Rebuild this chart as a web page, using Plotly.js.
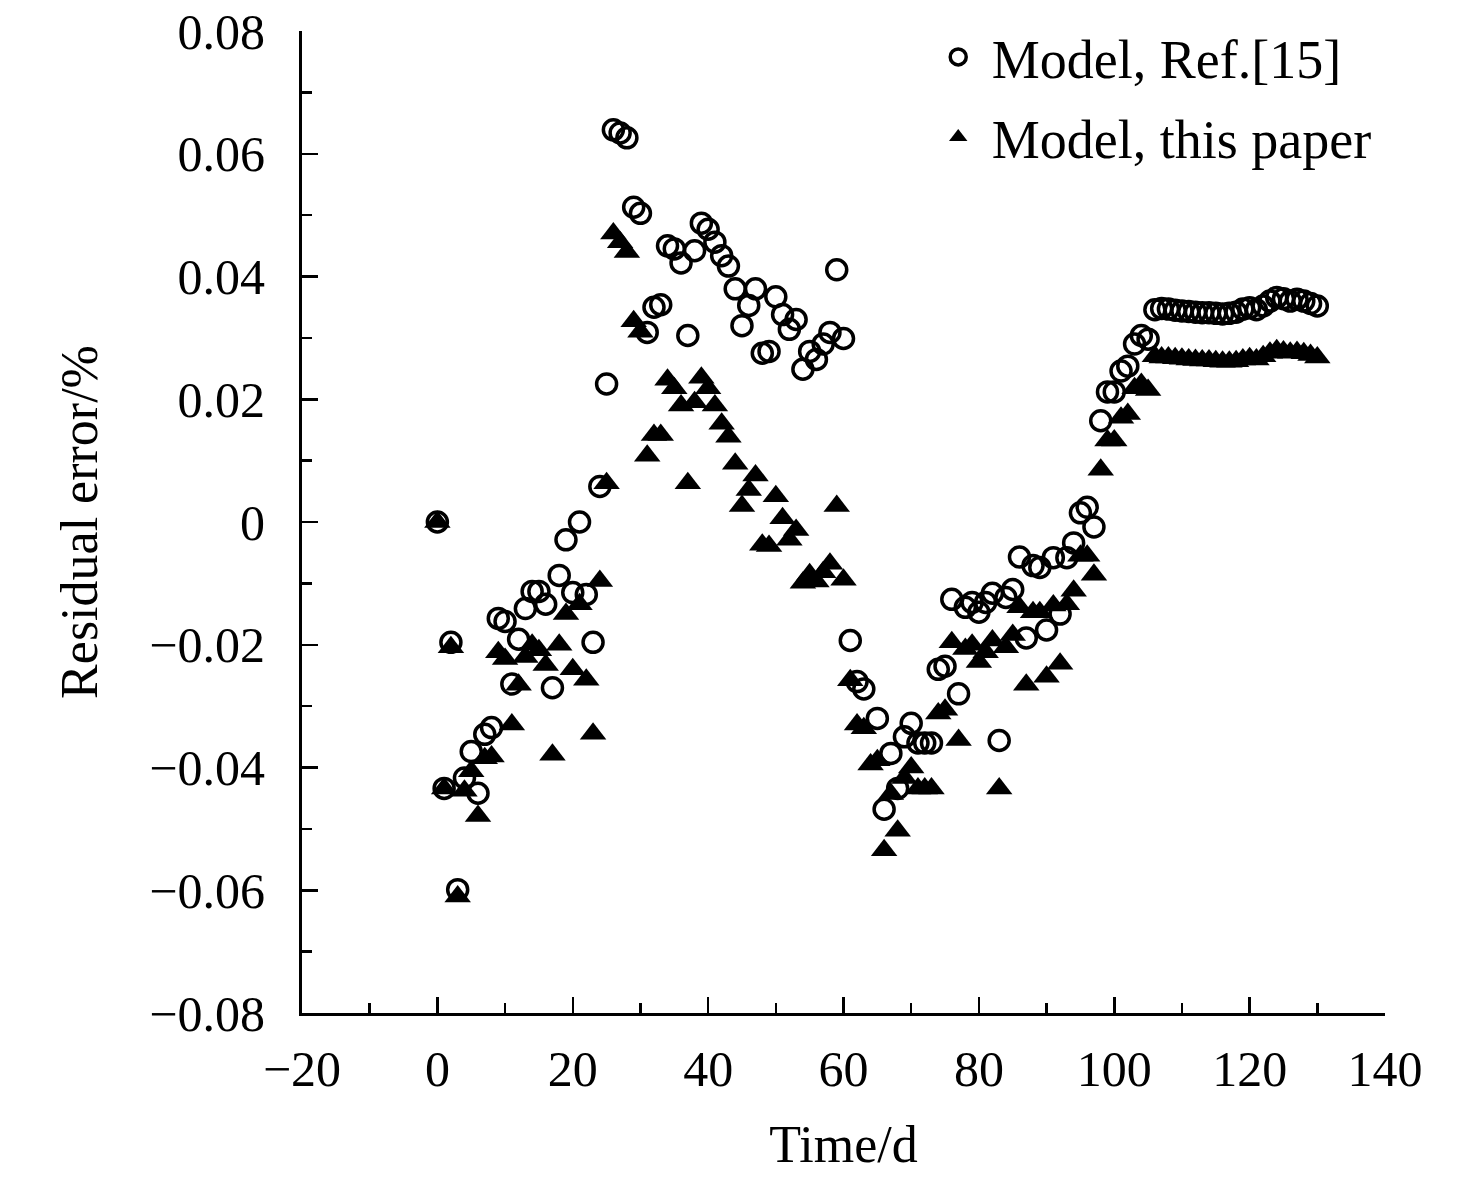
<!DOCTYPE html>
<html>
<head>
<meta charset="utf-8">
<script src="https://cdn.plot.ly/plotly-3.0.1.min.js"></script>
<style>html,body{margin:0;padding:0;background:#fff;}#chart{width:1476px;height:1182px;}</style>
</head>
<body>
<div id="chart"></div>
<script>
// Model, Ref.[15] (open circles)
var refTime = [0,1,2,3,4,5,6,7,8,9,10,11,12,13,14,15,16,17,18,19,20,21,22,23,24,25,26,27,28,29,30,31,32,33,34,35,36,37,38,39,40,41,42,43,44,45,46,47,48,49,50,51,52,53,54,55,56,57,58,59,60,61,62,63,65,66,67,68,69,70,71,72,73,74,75,76,77,78,79,80,81,82,83,84,85,86,87,88,89,90,91,92,93,94,95,96,97,98,99,100,101,102,103,104,105,106,107,108,109,110,111,112,113,114,115,116,117,118,119,120,121,122,123,124,125,126,127,128,129,130];
var refError = [0,-0.0434,-0.0196,-0.0599,-0.0417,-0.0374,-0.0442,-0.0346,-0.0335,-0.0157,-0.0162,-0.0264,-0.0191,-0.0141,-0.0113,-0.0113,-0.0134,-0.027,-0.0087,-0.0029,-0.0115,0,-0.0118,-0.0196,0.0058,0.0225,0.0639,0.0634,0.0626,0.0513,0.0503,0.0309,0.035,0.0354,0.045,0.0445,0.0422,0.0304,0.0442,0.0487,0.0477,0.0456,0.0434,0.0417,0.038,0.032,0.0353,0.038,0.0275,0.0278,0.0367,0.0338,0.0314,0.033,0.0249,0.0278,0.0265,0.029,0.0309,0.0411,0.0299,-0.0193,-0.026,-0.0272,-0.032,-0.0468,-0.0377,-0.0434,-0.035,-0.0328,-0.036,-0.036,-0.036,-0.024,-0.0235,-0.0126,-0.028,-0.0139,-0.0131,-0.0147,-0.0131,-0.0116,-0.0356,-0.0123,-0.011,-0.0057,-0.0189,-0.0071,-0.0074,-0.0176,-0.0058,-0.015,-0.0058,-0.0034,0.0015,0.0024,-0.0008,0.0165,0.0212,0.0212,0.0246,0.0254,0.029,0.0304,0.0298,0.0346,0.0348,0.0347,0.0345,0.0344,0.0343,0.0342,0.0341,0.0341,0.034,0.0339,0.034,0.0342,0.0347,0.0349,0.0346,0.0352,0.036,0.0366,0.0364,0.036,0.0363,0.036,0.0356,0.0352];

// Model, this paper (filled triangles)
var thisTime = [0,1,2,3,4,5,6,7,8,9,10,11,12,13,14,15,16,17,18,19,20,21,22,23,24,25,26,27,28,29,30,31,32,33,34,35,36,37,38,39,40,41,42,43,44,45,46,47,48,49,50,51,52,53,54,55,56,57,58,59,60,61,62,63,64,65,66,67,68,69,70,71,72,73,74,75,76,77,78,79,80,81,82,83,84,85,86,87,88,89,90,91,92,93,94,95,96,97,98,99,100,101,102,103,104,105,106,107,108,109,110,111,112,113,114,115,116,117,118,119,120,121,122,123,124,125,126,127,128,129,130];
var thisError = [0,-0.0434,-0.0204,-0.061,-0.0438,-0.0406,-0.0479,-0.0385,-0.0382,-0.0212,-0.0223,-0.033,-0.0265,-0.022,-0.020,-0.0209,-0.0233,-0.0379,-0.020,-0.015,-0.024,-0.0134,-0.0257,-0.0345,-0.0096,0.0063,0.047,0.0456,0.044,0.0327,0.031,0.0108,0.0142,0.0142,0.0232,0.0218,0.019,0.0063,0.0195,0.0235,0.0218,0.019,0.016,0.0139,0.0095,0.0026,0.0052,0.0076,-0.0037,-0.0039,0.0042,0.0006,-0.0029,-0.0013,-0.0099,-0.0085,-0.0097,-0.0082,-0.0068,0.0026,-0.0094,-0.0258,-0.033,-0.0336,-0.0395,-0.0388,-0.0535,-0.0443,-0.0503,-0.0417,-0.040,-0.0434,-0.0434,-0.0434,-0.0312,-0.0306,-0.0196,-0.0355,-0.0207,-0.020,-0.0228,-0.0212,-0.0193,-0.0434,-0.0204,-0.0184,-0.0139,-0.0265,-0.0147,-0.0147,-0.0252,-0.0136,-0.0231,-0.0134,-0.0112,-0.0055,-0.0055,-0.0086,0.0085,0.0133,0.0133,0.017,0.0176,0.0218,0.0225,0.0215,0.027,0.0268,0.0268,0.0267,0.0266,0.0265,0.0264,0.0263,0.0263,0.0262,0.0261,0.0261,0.0262,0.0265,0.0267,0.0265,0.027,0.0276,0.028,0.0278,0.0276,0.0277,0.0275,0.0272,0.0268];

var xTicks = [-20,0,20,40,60,80,100,120,140];
var yTicks = [-0.08,-0.06,-0.04,-0.02,0,0.02,0.04,0.06,0.08];

var serif = '"Liberation Serif", "Times New Roman", serif';

var traces = [
  {
    x: refTime, y: refError, type: 'scatter', mode: 'markers', name: 'Model, Ref.[15]',
    legendgroup: 'a',
    marker: {symbol: 'circle-open', size: 20, color: '#000', line: {width: 3.5, color: '#000'}}
  },
  {
    x: thisTime, y: thisError, type: 'scatter', mode: 'markers', name: 'Model, this paper',
    legendgroup: 'b',
    marker: {symbol: 'triangle-up', size: 23, color: '#000', line: {width: 0}}
  }
];

var layout = {
  width: 1476, height: 1182,
  paper_bgcolor: '#ffffff', plot_bgcolor: '#ffffff',
  margin: {l: 302, r: 91, t: 31, b: 169},
  font: {family: serif, color: '#000', size: 50},
  showlegend: true,
  legend: {
    x: 0.575, y: 1.016, xanchor: 'left', yanchor: 'top',
    bgcolor: 'rgba(0,0,0,0)', borderwidth: 0,
    font: {family: serif, size: 54, color: '#000'},
    traceorder: 'grouped', tracegroupgap: 7,
    itemwidth: 57
  },
  xaxis: {
    range: [-20, 140], tickmode: 'array', tickvals: xTicks,
    ticktext: xTicks.map(function(v){ return v < 0 ? '\u2212' + Math.abs(v) : String(v); }),
    ticks: 'inside', ticklen: 16, tickwidth: 2.5, tickcolor: '#000',
    minor: {dtick: 10, tick0: 0, ticks: 'inside', ticklen: 10, tickwidth: 2.5, tickcolor: '#000'},
    showline: true, linecolor: '#000', linewidth: 3, mirror: false,
    showgrid: false, zeroline: false,
    tickfont: {family: serif, size: 50, color: '#000'},
    ticklabelstandoff: 10,
    ticklabeloverflow: 'allow',
    title: {text: 'Time/d', font: {family: serif, size: 52, color: '#000'}, standoff: 30}
  },
  yaxis: {
    range: [-0.08, 0.08001], tickmode: 'array', tickvals: yTicks,
    ticktext: yTicks.map(function(v){ if (Math.abs(v) < 1e-9) return '0'; var s = Math.abs(v).toFixed(2); return v < 0 ? '\u2212' + s : s; }),
    ticks: 'inside', ticklen: 16, tickwidth: 2.5, tickcolor: '#000',
    minor: {dtick: 0.01, tick0: 0, ticks: 'inside', ticklen: 10, tickwidth: 2.5, tickcolor: '#000'},
    showline: true, linecolor: '#000', linewidth: 3, mirror: false,
    showgrid: false, zeroline: false,
    tickfont: {family: serif, size: 50, color: '#000'},
    ticklabelstandoff: 24,
    ticklabeloverflow: 'allow',
    title: {text: 'Residual error/%', font: {family: serif, size: 52, color: '#000'}, standoff: 36}
  }
};

Plotly.newPlot('chart', traces, layout, {displayModeBar: false, staticPlot: true});
</script>
</body>
</html>
